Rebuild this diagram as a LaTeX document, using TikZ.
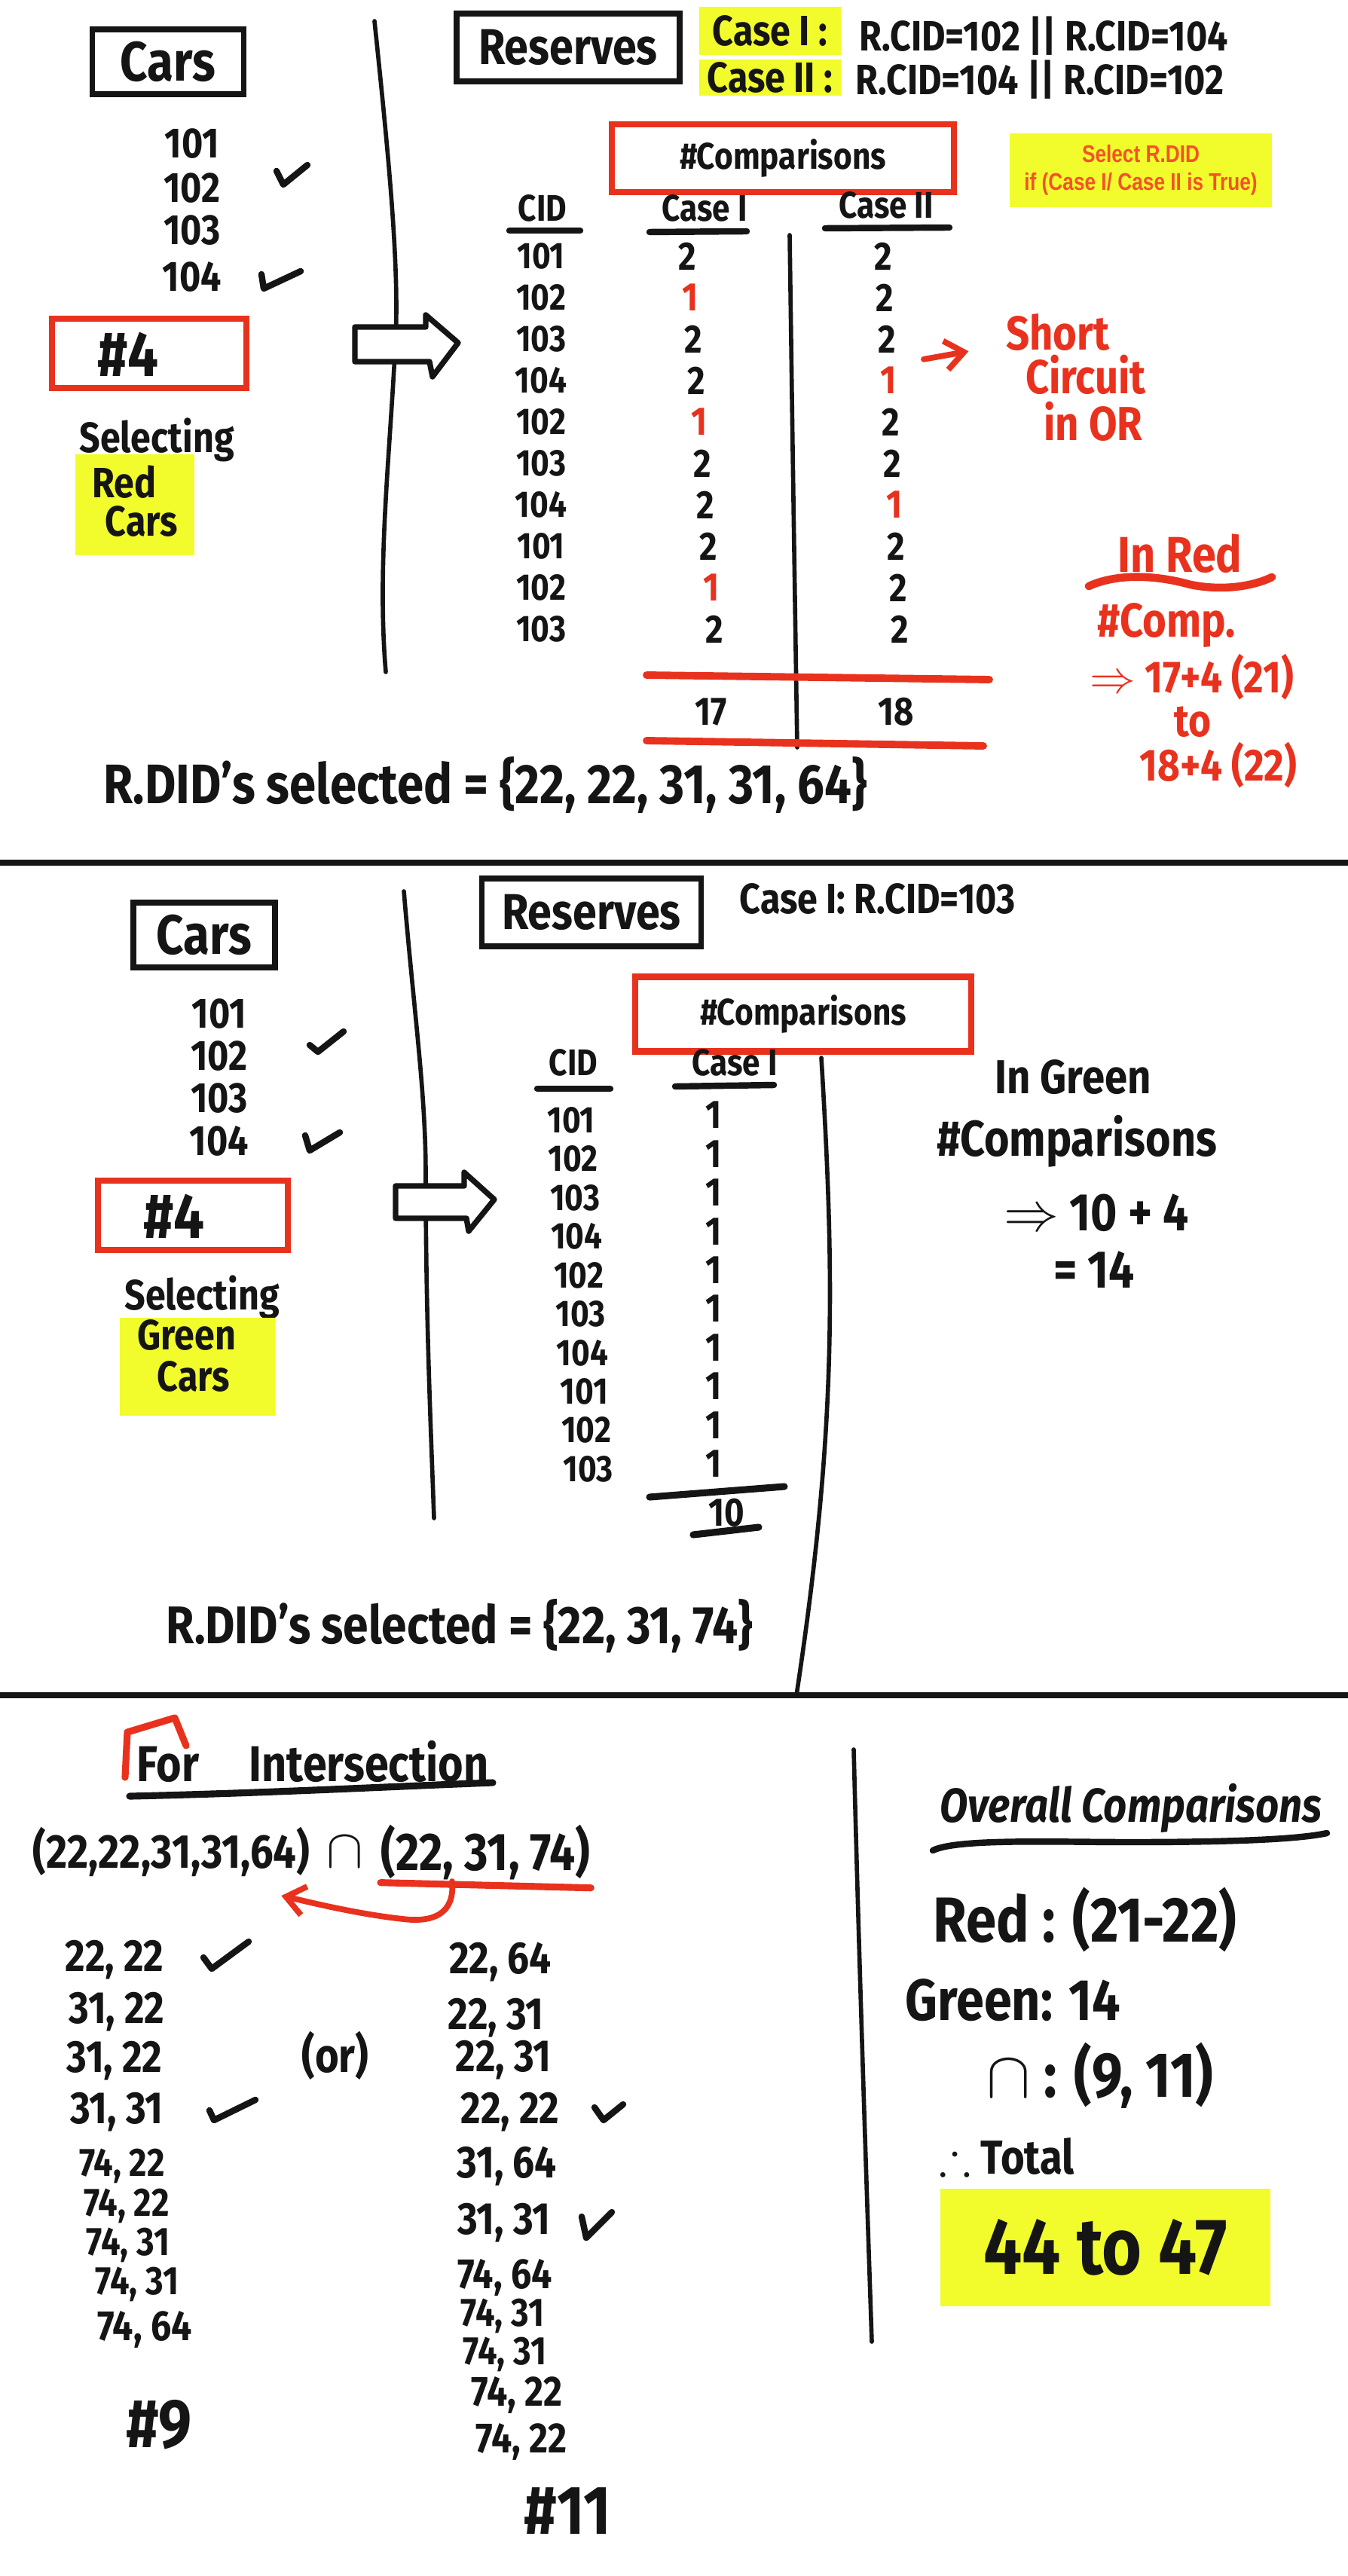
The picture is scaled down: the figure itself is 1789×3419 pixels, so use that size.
\documentclass[tikz,border=0pt]{standalone}
\usepackage{fontspec}
\usepackage{amssymb}
\setmainfont{Fira Sans}[FakeStretch=0.86]
\newfontfamily\notefont{Liberation Sans}[FakeStretch=0.82]
\usetikzlibrary{arrows.meta}
\definecolor{cInk}{HTML}{151515}
\definecolor{cRed}{HTML}{E8321E}
\definecolor{cYel}{HTML}{F2FC2C}
\definecolor{cNote}{HTML}{F2532A}

\begin{document}
\begin{tikzpicture}[x=0.01cm, y=-0.01cm,
  hand/.style={font=\fontsize{#1}{#1}\selectfont\bfseries, text=cInk, inner sep=0pt},
  redhand/.style={hand=#1, text=cRed},
  inkbox/.style={draw=cInk, line width=2.1pt, inner sep=0pt},
  redbox/.style={draw=cRed, line width=2.3pt, inner sep=0pt},
  hilite/.style={fill=cYel, inner sep=0pt},
  chk/.style={draw=cInk, line width=2.4pt, line cap=round, line join=round},
  pen/.style={draw=cInk, line width=#1, line cap=round},
  redpen/.style={draw=cRed, line width=#1, line cap=round},
  redarr/.style={redpen=2.2pt, -{Straight Barb[length=7pt, width=11pt]}},
  blockarr/.style={draw=cInk, line width=2.1pt, line join=round, fill=white}]
  \useasboundingbox (0,0) rectangle (1789,3419);
  \fill[white] (0,0) rectangle (1789,3419);

  % ===== part 1: red cars
  \node[inkbox, hand=21pt, minimum width=2.01cm, minimum height=0.86cm] (carsA) at (223,82) {Cars};
  \foreach \cid/\y in {101/191, 102/250, 103/306, 104/367}
    \node[hand=16pt] (carA\cid) at (255,\y) {\cid};
  \draw[chk] (367,227) -- (376,245) -- (408,219);
  \draw[chk] (347,364) -- (350,383) -- (399,360);
  \node[redbox, minimum width=2.58cm, minimum height=0.92cm] (numA) at (198,469) {};
  \node[hand=24pt] (numAt) at (170,470) {\#4};
  \node[hand=16pt] (selA) at (208,584) {Selecting};
  \node[hilite, minimum width=1.58cm, minimum height=1.34cm] (hlA) at (179,670) {};
  \node[hand=16pt] (redA) at (165,640) {Red};
  \node[hand=16pt] (carsAt) at (188,692) {Cars};
  \draw[pen=1.6pt] (497,28) .. controls (515,200) and (530,350) .. (525,450) .. controls (518,600) and (500,750) .. (512,892);
  \draw[blockarr] (471,434) -- (565,434) -- (565,418) -- (608,455) -- (574,500) -- (570,480) -- (471,480) -- cycle;

  \node[inkbox, hand=19pt, minimum width=2.96cm, minimum height=0.9cm] (resA) at (754,63) {Reserves};
  \node[hilite, hand=16pt, minimum width=1.88cm, minimum height=0.63cm] (caseAa) at (1022,41) {Case I :};
  \node[hilite, hand=16pt, minimum width=1.88cm, minimum height=0.48cm] (caseAb) at (1022,103) {Case II :};
  \node[hand=16pt, anchor=west] (condAa) at (1140,48) {R.CID=102 || R.CID=104};
  \node[hand=16pt, anchor=west] (condAb) at (1135,106) {R.CID=104 || R.CID=102};
  \node[redbox, hand=14pt, minimum width=4.54cm, minimum height=0.9cm] (cmpA) at (1039,210) {\#Comparisons};
  \node[hilite, minimum width=3.47cm, minimum height=0.97cm, align=center,
        font=\notefont\bfseries\fontsize{9.1pt}{10.5pt}\selectfont, text=cNote] (noteA) at (1514,226)
       {Select R.DID\\if (Case I/ Case II is True)};

  \node[hand=14pt] (hcidA) at (720,276) {CID};
  \node[hand=14pt] (hcaseA) at (935,276) {Case I};
  \node[hand=14pt] (hcasebA) at (1176,272) {Case II};
  \draw[pen=2.4pt] (676,306) -- (770,306);
  \draw[pen=2.4pt] (862,308) -- (991,307);
  \draw[pen=2.4pt] (1095,303) -- (1260,302);
  \foreach \cid/\va/\ca/\vb/\cb [count=\i from 0] in {101/2/cInk/2/cInk, 102/1/cRed/2/cInk, 103/2/cInk/2/cInk,
      104/2/cInk/1/cRed, 102/1/cRed/2/cInk, 103/2/cInk/2/cInk, 104/2/cInk/1/cRed, 101/2/cInk/2/cInk,
      102/1/cRed/2/cInk, 103/2/cInk/2/cInk}{
    \node[hand=14pt] (rA\i) at (718,340+55*\i) {\cid};
    \node[hand=15pt, text=\ca] (pA\i) at (912+4*\i,340+55*\i) {\va};
    \node[hand=15pt, text=\cb] (qA\i) at (1172+2.5*\i,340+55*\i) {\vb};}
  \draw[pen=1.6pt] (1048,312) .. controls (1052,600) .. (1058,992);
  \draw[redpen=2.8pt] (858,896) -- (1313,902);
  \draw[redpen=2.8pt] (858,983) -- (1305,990);
  \node[hand=15pt] (sumA1) at (944,945) {17};
  \node[hand=15pt] (sumA2) at (1189,945) {18};

  \node[redhand=18pt] (shrt) at (1404,441) {Short};
  \node[redhand=18pt] (circ) at (1441,497) {Circuit};
  \node[redhand=18pt] (inor) at (1451,559) {in OR};
  \draw[redarr] ([xshift=10pt, yshift=8pt]qA3.east) -- ([xshift=-14pt]shrt.south west);
  \node[redhand=19pt] (inred) at (1566,735) {In Red};
  \draw[redpen=3pt] (1445,778) .. controls (1480,762) and (1530,762) .. (1580,776) .. controls (1630,786) and (1670,775) .. (1688,766);
  \node[redhand=18pt] (compR) at (1548,830) {\#Comp.};
  \node[redhand=17pt] (sumR1) at (1582,899) {$\Rightarrow$ 17+4 (21)};
  \node[redhand=17pt] (toR) at (1583,958) {to};
  \node[redhand=17pt] (sumR2) at (1617,1016) {18+4 (22)};
  \node[hand=21pt, anchor=west] (didA) at (137,1042) {R.DID's selected = \{22, 22, 31, 31, 64\}};

  \draw[pen=2.2pt, line cap=butt] (0,1145) -- (1789,1145);

  % ===== part 2: green cars
  \node[inkbox, hand=21pt, minimum width=1.88cm, minimum height=0.86cm] (carsB) at (271,1241) {Cars};
  \foreach \cid/\y in {101/1346, 102/1402, 103/1458, 104/1514}
    \node[hand=16pt] (carB\cid) at (291,\y) {\cid};
  \draw[chk] (411,1387) -- (422,1396) -- (456,1369);
  \draw[chk] (405,1507) -- (411,1527) -- (451,1503);
  \node[redbox, minimum width=2.51cm, minimum height=0.92cm] (numB) at (256,1613) {};
  \node[hand=24pt] (numBt) at (231,1614) {\#4};
  \node[hand=16pt] (selB) at (268,1722) {Selecting};
  \node[hilite, minimum width=2.05cm, minimum height=1.29cm] (hlB) at (262,1814) {};
  \node[hand=16pt] (greenB) at (248,1772) {Green};
  \node[hand=16pt] (carsBt) at (257,1827) {Cars};
  \draw[pen=1.6pt] (536,1183) .. controls (550,1350) and (565,1450) .. (565,1560) .. controls (565,1750) and (572,1900) .. (576,2015);
  \draw[blockarr] (525,1574) -- (616,1574) -- (616,1556) -- (656,1592) -- (622,1634) -- (619,1617) -- (525,1617) -- cycle;

  \node[inkbox, hand=19pt, minimum width=2.91cm, minimum height=0.9cm] (resB) at (785,1211) {Reserves};
  \node[hand=16pt, anchor=west] (condB) at (981,1193) {Case I: R.CID=103};
  \node[redbox, hand=14pt, minimum width=4.45cm, minimum height=0.99cm] (cmpB) at (1066,1346) {\#Comparisons};
  \node[hand=14pt] (hcidB) at (761,1410) {CID};
  \node[hand=14pt] (hcaseB) at (975,1410) {Case I};
  \draw[pen=2.4pt] (713,1445) -- (810,1445);
  \draw[pen=2.4pt] (896,1442) -- (1027,1440);
  \foreach \cid [count=\i from 0] in {101,102,103,104,102,103,104,101,102,103}{
    \node[hand=14pt] (rB\i) at (758+2.5*\i,1487+51.4*\i) {\cid};
    \node[hand=15pt] (pB\i) at (947,1480+51.4*\i) {1};}
  \draw[pen=1.6pt] (1090,1404) .. controls (1108,1700) and (1110,1900) .. (1057,2250);
  \draw[pen=2.6pt] (862,1987) -- (1041,1973);
  \node[hand=15pt] (sumB) at (964,2008) {10};
  \draw[pen=2.6pt] (920,2037) -- (1007,2027);
  \node[hand=18pt] (ingreen) at (1424,1430) {In Green};
  \node[hand=19pt] (compG) at (1429,1515) {\#Comparisons};
  \node[hand=20pt] (sumG1) at (1455,1610) {$\Rightarrow$ 10 + 4};
  \node[hand=20pt] (sumG2) at (1452,1685) {= 14};
  \node[hand=20pt, anchor=west] (didB) at (220,2158) {R.DID's selected = \{22, 31, 74\}};

  \draw[pen=2.2pt, line cap=butt] (0,2250) -- (1789,2250);

  % ===== part 3: intersection and totals
  \node[hand=19pt] (forI) at (415,2338) {For\quad Intersection};
  \draw[pen=2.6pt] (172,2384) .. controls (350,2380) and (500,2372) .. (654,2366);
  \draw[redpen=2.6pt, line join=round] (166,2359) -- (169,2299) -- (232,2280) -- (247,2317);
  \node[hand=18pt, anchor=west] (setL) at (43,2458) {(22,22,31,31,64)};
  \node[hand=22pt] (capI) at (458,2458) {$\cap$};
  \node[hand=20pt, anchor=west] (setR) at (505,2458) {(22, 31, 74)};
  \draw[redpen=2.6pt] ([yshift=-1pt]setR.south west) -- ([yshift=-3pt]setR.south east);
  \coordinate (hookS) at (600,2497);
  \draw[redarr] (hookS) .. controls (604,2540) and (575,2552) .. (535,2547) .. controls (470,2540) and (400,2522) .. ([xshift=-11pt, yshift=-7pt]setL.south east);
  \foreach \pr/\x/\y/\s [count=\i] in {{22, 22}/152/2601/17pt, {31, 22}/155/2670/17pt, {31, 22}/152/2735/17pt,
      {31, 31}/155/2803/17pt, {74, 22}/162/2875/15pt, {74, 22}/168/2928/15pt, {74, 31}/170/2980/15pt,
      {74, 31}/182/3032/15pt, {74, 64}/192/3092/16pt}
    \node[hand=\s] (lL\i) at (\x,\y) {\pr};
  \foreach \pr/\x/\y/\s [count=\i] in {{22, 64}/664/2604/17pt, {22, 31}/658/2678/17pt, {22, 31}/668/2734/17pt,
      {22, 22}/677/2803/17pt, {31, 64}/673/2875/17pt, {31, 31}/669/2950/17pt, {74, 64}/670/3023/16pt,
      {74, 31}/667/3074/15pt, {74, 31}/670/3125/15pt, {74, 22}/686/3179/16pt, {74, 22}/692/3241/16pt}
    \node[hand=\s] (lR\i) at (\x,\y) {\pr};
  \draw[chk] (270,2598) -- (281,2613) -- (330,2577);
  \draw[chk] (278,2801) -- (284,2814) -- (339,2787);
  \draw[chk] (789,2797) -- (801,2814) -- (827,2793);
  \draw[chk] (772,2942) -- (778,2970) -- (812,2936);
  \node[hand=18pt] (orT) at (445,2728) {(or)};
  \node[hand=26pt] (cntL) at (211,3218) {\#9};
  \node[hand=26pt] (cntR) at (753,3333) {\#11};

  \draw[pen=1.6pt] (1133,2322) .. controls (1140,2600) and (1150,2900) .. (1157,3108);
  \node[hand=18pt] (overall) at (1501,2400) {\itshape Overall Comparisons};
  \draw[pen=2.4pt] (1238,2456) .. controls (1270,2440) and (1400,2445) .. (1500,2445) .. controls (1620,2445) and (1720,2442) .. (1761,2433);
  \node[hand=24pt] (totRed) at (1440,2548) {Red : (21-22)};
  \node[hand=22pt, anchor=west] (totGreen) at (1201,2655) {Green: 14};
  \node[hand=24pt] (totCap) at (1460,2755) {$\cap$ : (9, 11)};
  \node[hand=18pt] (totT) at (1336,2862) {$\therefore$ Total};
  \node[hilite, hand=30pt, minimum width=4.38cm, minimum height=1.56cm] (total) at (1467,2983) {44 to 47};
\end{tikzpicture}
\end{document}
